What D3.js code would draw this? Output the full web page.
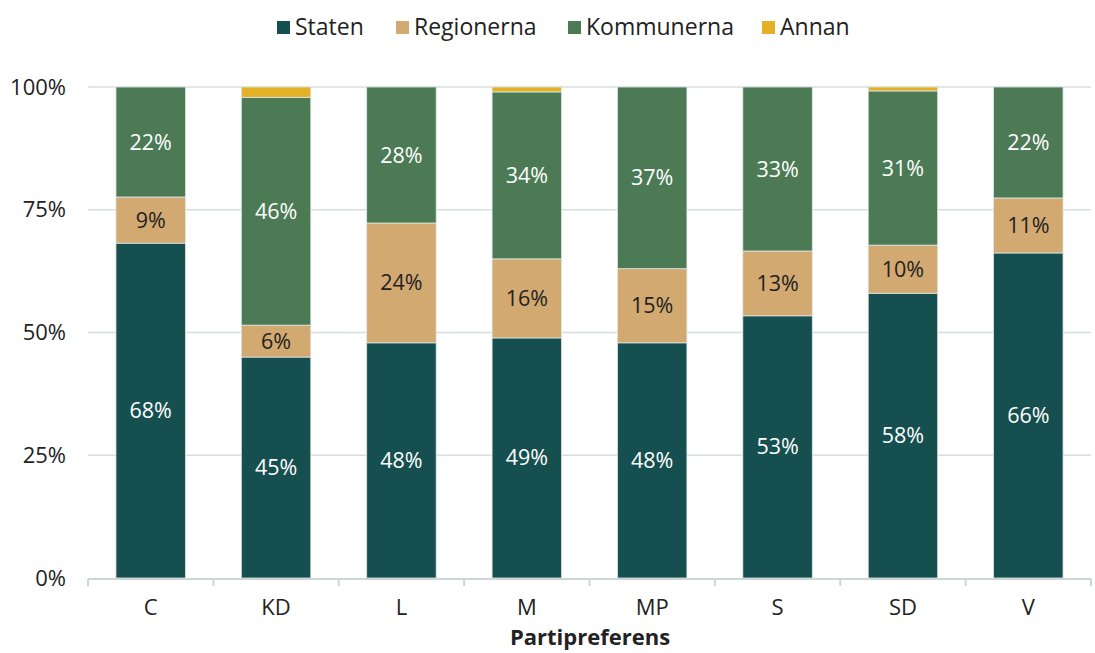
<!DOCTYPE html>
<html><head><meta charset="utf-8">
<script src="https://cdn.jsdelivr.net/npm/d3@7"></script>
<style>body{margin:0;background:#fff;} text{font-family:"Open Sans",Lato,sans-serif;}</style>
</head><body><svg id="c" width="1095" height="653"></svg>
<script>
const categories = ["C","KD","L","M","MP","S","SD","V"];
const seriesNames = ["Staten","Regionerna","Kommunerna","Annan"];
const staten =     [68.2, 45.0, 47.9, 48.9, 47.9, 53.4, 58.0, 66.2];
const regionerna = [ 9.4,  6.5, 24.4, 16.1, 15.1, 13.2,  9.8, 11.2];
const kommunerna = [22.4, 46.4, 27.7, 34.0, 37.0, 33.4, 31.4, 22.6];
const annan =      [ 0.0,  2.1,  0.0,  1.0,  0.0,  0.0,  0.8,  0.0];
const labelsStaten = ["68%","45%","48%","49%","48%","53%","58%","66%"];
const labelsReg = ["9%","6%","24%","16%","15%","13%","10%","11%"];
const labelsKom = ["22%","46%","28%","34%","37%","33%","31%","22%"];
const yTicks = [0,25,50,75,100];
const colors = ["#164f4f","#d2a970","#4b7a55","#e3b026"];
const labelColors = ["#ffffff","#222222","#ffffff",null];

const svg = d3.select("#c");
const x = d3.scaleBand().domain(categories).range([88, 1091]).paddingInner(0.446).paddingOuter(0.223);
const y = d3.scaleLinear().domain([0,100]).range([578, 87]);

const data = categories.map((c,i)=>({cat:c, Staten:staten[i], Regionerna:regionerna[i], Kommunerna:kommunerna[i], Annan:annan[i]}));
const stack = d3.stack().keys(seriesNames)(data);

// gridlines
svg.append("g").selectAll("line").data(yTicks.filter(d=>d>0)).join("line")
  .attr("x1", 88).attr("x2", 1091).attr("y1", d=>y(d)).attr("y2", d=>y(d))
  .attr("stroke","#d6dfdd").attr("stroke-width",1.5);

// y labels
svg.append("g").selectAll("text").data(yTicks).join("text")
  .attr("x", 66).attr("y", d=>y(d)).attr("dy","0.35em").attr("text-anchor","end")
  .attr("font-size",22).attr("fill","#222").text(d=>d+"%");

// bars
const gs = svg.append("g").selectAll("g").data(stack).join("g").attr("fill",(d,i)=>colors[i]);
gs.selectAll("rect").data(d=>d).join("rect")
  .attr("x", d=>x(d.data.cat)).attr("width", x.bandwidth())
  .attr("y", d=>y(d[1])).attr("height", d=>Math.max(0, y(d[0])-y(d[1])))
  .attr("stroke","#dfe6e4").attr("stroke-width",0.8);

// labels
const labelArrs = [labelsStaten, labelsReg, labelsKom];
stack.slice(0,3).forEach((s,si)=>{
  svg.append("g").selectAll("text").data(s).join("text")
    .attr("x", d=>x(d.data.cat)+x.bandwidth()/2)
    .attr("y", d=>(y(d[0])+y(d[1]))/2).attr("dy","0.35em")
    .attr("text-anchor","middle").attr("font-size",21.5).attr("fill",labelColors[si])
    .text((d,i)=>labelArrs[si][i]);
});

// x axis
const step = x.step();
svg.append("line").attr("x1",88).attr("x2",1091).attr("y1",579).attr("y2",579).attr("stroke","#ccd6d4").attr("stroke-width",2);
svg.append("g").selectAll("line").data(d3.range(categories.length+1)).join("line")
  .attr("x1", i=>88 + i*step).attr("x2", i=>88 + i*step)
  .attr("y1",579).attr("y2",586).attr("stroke","#ccd6d4").attr("stroke-width",2);
svg.append("g").selectAll("text").data(categories).join("text")
  .attr("x", d=>x(d)+x.bandwidth()/2).attr("y",607).attr("dy","0.35em")
  .attr("text-anchor","middle").attr("font-size",22).attr("fill","#222").text(d=>d);
svg.append("text").attr("x",590).attr("y",637).attr("dy","0.35em").attr("text-anchor","middle")
  .attr("font-size",22).attr("font-weight","bold").attr("fill","#222").text("Partipreferens");

// legend
const legX = [277, 396, 568, 762];
const lg = svg.append("g").selectAll("g").data(seriesNames).join("g")
  .attr("transform",(d,i)=>`translate(${legX[i]},27)`);
lg.append("rect").attr("x",0).attr("y",-6).attr("width",13).attr("height",13).attr("fill",(d,i)=>colors[i]);
lg.append("text").attr("x",18).attr("y",0).attr("dy","0.35em").attr("font-size",23).attr("fill","#222").text(d=>d);
</script></body></html>
